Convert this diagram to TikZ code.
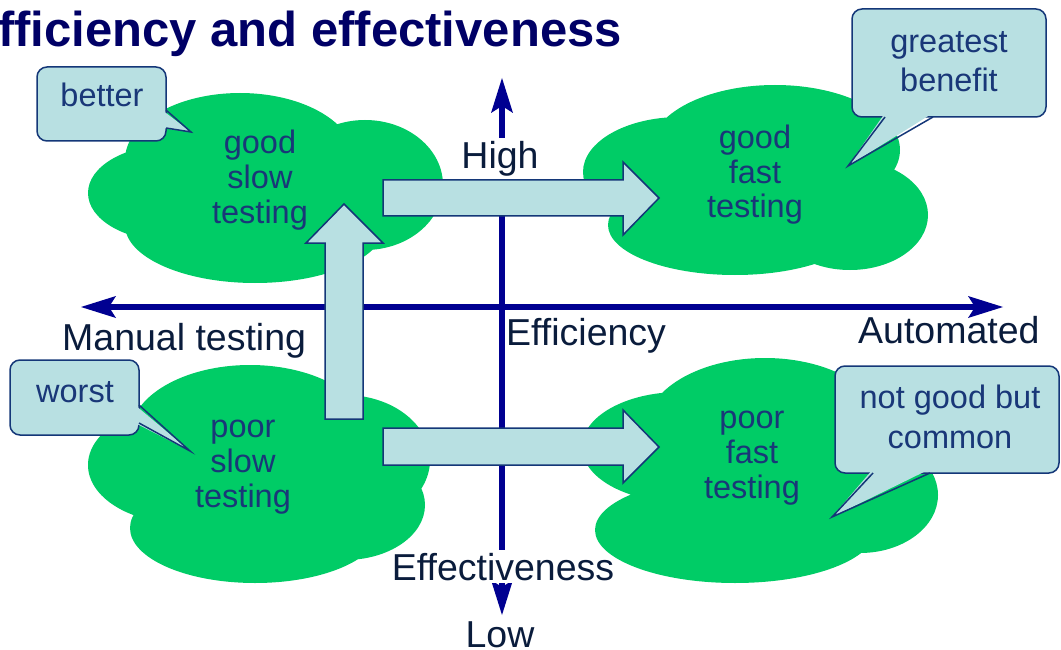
\documentclass[tikz,border=0pt]{standalone}
\usepackage{fontspec}
\setmainfont{Liberation Sans}
\usetikzlibrary{arrows.meta}
\definecolor{cloudgreen}{RGB}{0,204,102}
\definecolor{boxfill}{RGB}{184,224,226}
\definecolor{boxline}{RGB}{20,55,120}
\definecolor{textblue}{RGB}{25,55,120}
\definecolor{axisblue}{RGB}{0,0,145}
\definecolor{labelnavy}{RGB}{10,28,60}
\definecolor{titlenavy}{RGB}{0,0,102}
\tikzset{
  axistip/.tip={Stealth[length=35pt,width=22pt,inset=7pt,line width=0pt]},
  axis/.style={line width=6.5pt, draw=axisblue, axistip-axistip},
  cloud/.style={fill=cloudgreen},
  blockarrow/.style={fill=boxfill, draw=boxline, line width=1.5pt, line join=miter},
  callbox/.style={fill=boxfill, draw=boxline, line width=1.5pt, rounded corners=10pt},
  callfill/.style={fill=boxfill},
  callpin/.style={draw=boxline, line width=1.5pt, line join=miter},
  cloudtext/.style={align=center, text=textblue, font=\fontsize{32.5}{35}\selectfont, anchor=base, inner sep=0pt},
  calltext/.style={align=center, text=textblue, font=\fontsize{32.5}{39.5}\selectfont, anchor=base, inner sep=0pt},
  axislabel/.style={text=labelnavy, font=\fontsize{37.5}{40}\selectfont, inner sep=0pt, anchor=base west},
  covered/.style={text=labelnavy, font=\fontsize{37.5}{40}\selectfont, anchor=base, fill=white, inner xsep=2pt, inner ysep=3pt}
}

\begin{document}
\begin{tikzpicture}[x=1pt,y=-1pt]
    \useasboundingbox (0,0) rectangle (1061,650);
    % Title
    \node[anchor=base west, inner sep=0pt, text=titlenavy, font=\fontsize{49}{52}\bfseries] (title) at (-2,47) {fficiency and effectiveness};

    % Draw axes
    \draw[axis] (81,307) -- (1003,307);
    \draw[axis] (502,615) -- (502,78);
    \node[covered] (high) at (500,168) {High};
    \node[covered] (effectiveness) at (503,580) {Effectiveness};
    \node[covered, fill=none] (low) at (500,647) {Low};
    \node[axislabel] (manual) at (62,350) {Manual testing};
    \node[axislabel] (efficiency) at (506,345) {Efficiency};
    \node[axislabel] (automated) at (858,343) {Automated};

    % Clouds
    \fill[cloud] (170,193) ellipse [x radius=82, y radius=48]
                 (240,160) ellipse [x radius=115, y radius=67]
                 (365,185) ellipse [x radius=78, y radius=65]
                 (255,225) ellipse [x radius=130, y radius=58];
    \fill[cloud] (680,172) ellipse [x radius=97, y radius=55]
                 (775,150) ellipse [x radius=125, y radius=65]
                 (850,215) ellipse [x radius=78, y radius=55]
                 (735,225) ellipse [x radius=127, y radius=50];
    \fill[cloud] (180,465) ellipse [x radius=92, y radius=58]
                 (250,435) ellipse [x radius=120, y radius=70]
                 (345,460) ellipse [x radius=85, y radius=65]
                 (255,528) ellipse [x radius=125, y radius=55]
                 (345,505) ellipse [x radius=80, y radius=55];
    \fill[cloud] (680,447) ellipse [x radius=98, y radius=55]
                 (765,430) ellipse [x radius=120, y radius=72]
                 (860,495) ellipse [x radius=78, y radius=58]
                 (735,530) ellipse [x radius=140, y radius=53];
    \node[cloudtext] (goodslow) at (260,223) {good\\slow\\testing};
    \node[cloudtext] (goodfast) at (755,218) {good\\fast\\testing};
    \node[cloudtext] (poorslow) at (243,507) {poor\\slow\\testing};
    \node[cloudtext] (poorfast) at (752,498) {poor\\fast\\testing};

    % Block arrows
    \draw[blockarrow] (383,180) -- (623,180) -- (623,162) -- (659,198)
          -- (623,235) -- (623,216) -- (383,216) -- cycle;
    \draw[blockarrow] (383,428) -- (623,428) -- (623,410) -- (659,447)
          -- (623,483) -- (623,465) -- (383,465) -- cycle;
    \draw[blockarrow] (325,419) -- (325,243) -- (306,243) -- (344,204)
          -- (383,243) -- (363,243) -- (363,419) -- cycle;

    % Callouts
    \coordinate (bettertip) at (191,132);
    \draw[callbox] (37,67) rectangle (166,141);
    \fill[callfill] (162,110) -- (bettertip) -- (162,128) -- cycle;
    \draw[callpin] (166,110) -- (bettertip) -- (166,128);
    \node[calltext] (better) at (102,107) {better};

    \coordinate (greatesttip) at (848,166);
    \draw[callbox] (852,9) rectangle (1046,117);
    \fill[callfill] (885,113) -- (greatesttip) -- (933,113) -- cycle;
    \draw[callpin] (885,117) -- (greatesttip) -- (933,117);
    \node[calltext] (greatest) at (949,92) {greatest\\benefit};

    \coordinate (worsttip) at (190,451);
    \draw[callbox] (10,360) rectangle (139,435);
    \fill[callfill] (135,405) -- (worsttip) -- (135,423) -- cycle;
    \draw[callpin] (139,405) -- (worsttip) -- (139,423);
    \node[calltext] (worst) at (75,402) {worst};

    \coordinate (notgoodtip) at (832,517);
    \draw[callbox] (835,366) rectangle (1059,473);
    \fill[callfill] (873,469) -- (notgoodtip) -- (930,469) -- cycle;
    \draw[callpin] (873,473) -- (notgoodtip) -- (930,473);
    \node[calltext] (notgood) at (950,448) {not good but\\common};

\end{tikzpicture}
\end{document}
